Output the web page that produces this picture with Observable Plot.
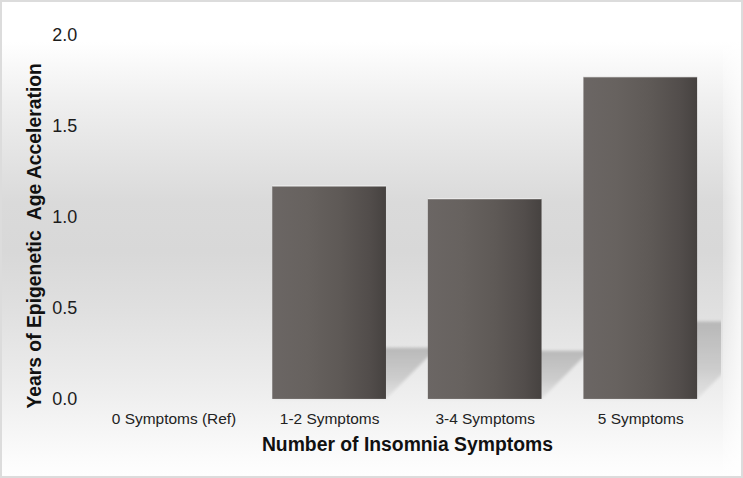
<!DOCTYPE html>
<html>
<head>
<meta charset="utf-8">
<script src="https://cdn.jsdelivr.net/npm/d3@7"></script>
<script src="https://cdn.jsdelivr.net/npm/@observablehq/plot@0.6"></script>
<style>
  html, body { margin: 0; padding: 0; background: #fff; }
  #wrap {
    position: relative; width: 743px; height: 478px; box-sizing: border-box;
    border: 2px solid #dcdcdc;
    background: linear-gradient(to bottom, #ffffff 0px, #ffffff 40px, #efefef 100px, #dadada 200px, #d8d8d8 250px, #e0e0e0 310px, #ececec 380px, #f4f4f4 420px, #fcfcfc 460px, #ffffff 478px);
    overflow: hidden;
  }
  #fade {
    position: absolute; left: 721px; top: 0; width: 22px; height: 478px;
    background: linear-gradient(to right, rgba(255,255,255,0.25), rgba(255,255,255,0.85));
  }
  #chart { position: absolute; left: -2px; top: -2px; }
</style>
</head>
<body>
<div id="wrap"><div id="fade"></div><div id="chart"></div></div>
<script>
const categories = ["0 Symptoms (Ref)", "1-2 Symptoms", "3-4 Symptoms", "5 Symptoms"];
const values = [0, 1.17, 1.10, 1.77];
const yTicks = [0, 0.5, 1.0, 1.5, 2.0];
const xTitle = "Number of Insomnia Symptoms";
const yTitle = "Years of Epigenetic  Age Acceleration";

const data = categories.map((c, i) => ({category: c, value: values[i]}));

const shadowMark = (index, scales, vals, dimensions) => {
  const g = d3.create("svg:g").attr("clip-path", "url(#plotClip)").attr("filter", "url(#blurShadow)");
  const bw = scales.x.bandwidth ? scales.x.bandwidth() : scales.scales.x.bandwidth;
  const base = scales.y(0);
  for (const d of data) {
    const xl = scales.x(d.category);
    const xr = xl + bw;
    const h = 0.24 * (base - scales.y(d.value));
    if (h <= 0) continue;
    const off = h * 1.0;
    const pts = [[xl, base], [xr, base], [xr + off, base - h], [xl + off, base - h]];
    g.append("polygon")
      .attr("points", pts.map(p => p.join(",")).join(" "))
      .attr("fill", "url(#shadowGrad)");
  }
  return g.node();
};

const chart = Plot.plot({
  width: 743,
  height: 478,
  marginLeft: 95,
  marginRight: 22,
  marginTop: 35,
  marginBottom: 78,
  style: {background: "transparent", fontFamily: "'Liberation Sans', Arial, sans-serif", overflow: "visible"},
  x: {domain: categories, paddingInner: 0.27, paddingOuter: 0.135, label: null},
  y: {domain: [0, 2], label: null},
  marks: [
    shadowMark,
    Plot.barY(data, {x: "category", y: "value", fill: "url(#barGrad)"}),
    Plot.tickY(data.filter(d => d.value > 0), {x: "category", y: "value", stroke: "#f6f6f6", strokeWidth: 1, dy: -0.5}),
    Plot.axisY({ticks: yTicks, tickFormat: d3.format(".1f"), tickSize: 0, tickPadding: 18, fontSize: 18, fill: "#1c1c1c", label: null}),
    Plot.axisX({tickSize: 0, tickPadding: 14, fontSize: 15.5, fill: "#222", label: null}),
    Plot.text([xTitle], {frameAnchor: "bottom", dy: 46, lineAnchor: "middle", textAnchor: "middle", fontSize: 19.4, fontWeight: "bold", fill: "#111"}),
    Plot.text([yTitle], {frameAnchor: "left", dx: -61, dy: 18.5, rotate: -90, lineAnchor: "middle", textAnchor: "middle", fontSize: 19.4, fontWeight: "bold", fill: "#111"})
  ]
});

const svg = d3.select(chart);
const defs = svg.insert("defs", ":first-child");
const bg = defs.append("linearGradient").attr("id", "barGrad").attr("x1", "0").attr("x2", "1").attr("y1", "0").attr("y2", "0");
[["0%", "#6b6664"], ["30%", "#67625f"], ["60%", "#5e5956"], ["85%", "#524d4b"], ["100%", "#464240"]].forEach(([o, c]) => bg.append("stop").attr("offset", o).attr("stop-color", c));
const sg = defs.append("linearGradient").attr("id", "shadowGrad").attr("x1", "0").attr("x2", "0").attr("y1", "0").attr("y2", "1");
[["0%", "#a9a9a9", 0.75], ["60%", "#b8b8b8", 0.6], ["100%", "#d0d0d0", 0.4]].forEach(([o, c, a]) => sg.append("stop").attr("offset", o).attr("stop-color", c).attr("stop-opacity", a));
const f = defs.append("filter").attr("id", "blurShadow").attr("x", "-10%").attr("y", "-10%").attr("width", "120%").attr("height", "120%");
f.append("feGaussianBlur").attr("stdDeviation", 1.5);
defs.append("clipPath").attr("id", "plotClip").append("rect").attr("x", 0).attr("y", 0).attr("width", 723).attr("height", 478);

document.getElementById("chart").appendChild(chart);
</script>
</body>
</html>
